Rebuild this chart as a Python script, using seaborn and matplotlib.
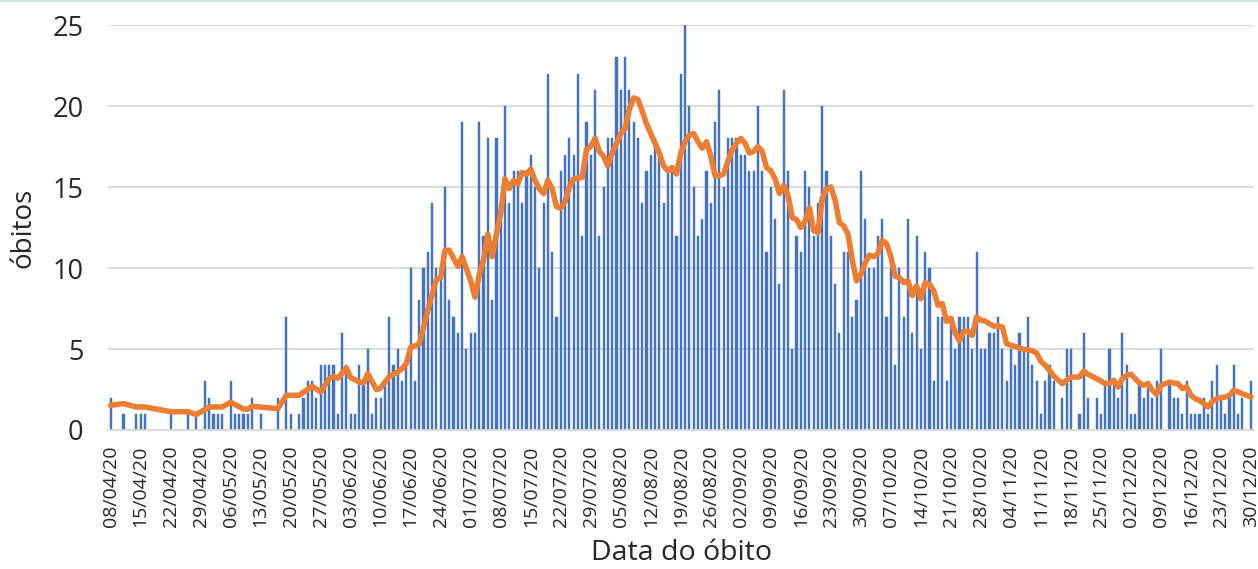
import pandas as pd
import matplotlib.pyplot as plt
import seaborn as sns

# daily deaths from 08/04/20 (one value per day, 0 = no bar)
deaths = [
    2, 0, 0, 1, 0, 0, 1, 1, 1, 0, 0, 0, 0, 0, 1, 0, 0, 0, 1, 0,
    1, 0, 3, 2, 1, 1, 1, 0, 3, 1, 1, 1, 1, 2, 0, 1, 0, 0, 0, 2,
    0, 7, 1, 0, 1, 2, 3, 3, 2, 4, 4, 4, 4, 1, 6, 4, 1, 1, 4, 3,
    5, 1, 2, 2, 3, 7, 4, 5, 3, 4, 10, 3, 8, 10, 11, 14, 10, 10, 15, 8,
    7, 6, 19, 5, 6, 6, 19, 12, 18, 8, 18, 14, 20, 14, 16, 16, 14, 16, 17, 15,
    10, 14, 22, 11, 7, 16, 17, 18, 17, 22, 12, 19, 17, 21, 12, 15, 18, 18, 23, 21,
    23, 21, 19, 18, 14, 16, 17, 18, 17, 14, 16, 16, 12, 22, 25, 20, 15, 12, 13, 16,
    14, 19, 21, 15, 18, 18, 18, 17, 17, 16, 16, 20, 16, 11, 15, 13, 9, 21, 16, 5,
    12, 11, 16, 15, 12, 14, 20, 16, 12, 9, 6, 11, 11, 7, 8, 16, 13, 10, 10, 12,
    13, 7, 10, 4, 10, 7, 13, 6, 12, 5, 11, 10, 3, 7, 7, 3, 7, 5, 7, 7,
    7, 5, 11, 5, 5, 6, 6, 7, 5, 3, 5, 4, 6, 5, 7, 4, 3, 1, 3, 4,
    3, 0, 2, 5, 5, 0, 1, 6, 2, 0, 2, 1, 3, 5, 3, 2, 6, 4, 1, 1,
    3, 2, 3, 2, 3, 5, 0, 3, 2, 2, 1, 3, 1, 1, 1, 2, 1, 3, 4, 2,
    1, 2, 4, 1, 2, 0, 3,
]

# moving average line (day number since 08/04/20, value)
line_days = [
    0, 3, 6, 8, 14, 18, 20, 23, 26, 28, 31, 32, 33, 39, 41, 44, 47, 49, 51, 52,
    53, 55, 56, 58, 59, 60, 62, 63, 65, 67, 68, 69, 70, 72, 74, 76, 77, 78, 79, 81,
    82, 84, 85, 86, 87, 88, 89, 90, 91, 92, 93, 94, 95, 96, 97, 98, 99, 100, 101, 102,
    103, 104, 105, 106, 107, 108, 110, 111, 112, 113, 114, 115, 116, 117, 118, 119, 120, 121, 122, 123,
    124, 125, 126, 127, 128, 129, 130, 131, 132, 133, 134, 135, 136, 137, 138, 139, 140, 141, 142, 143,
    144, 145, 146, 147, 148, 149, 150, 151, 152, 153, 154, 155, 156, 157, 158, 159, 160, 161, 162, 163,
    164, 165, 166, 167, 168, 169, 170, 171, 172, 173, 174, 175, 176, 177, 178, 179, 180, 181, 182, 183,
    184, 185, 186, 187, 188, 189, 190, 191, 192, 193, 194, 195, 196, 197, 198, 199, 200, 201, 202, 203,
    204, 205, 206, 207, 208, 209, 210, 211, 212, 213, 214, 215, 216, 217, 218, 219, 220, 222, 223, 224,
    226, 227, 228, 230, 231, 232, 233, 234, 235, 236, 237, 238, 239, 240, 241, 242, 243, 244, 245, 247,
    248, 249, 250, 251, 252, 253, 254, 255, 256, 257, 258, 259, 260, 261, 262, 263, 264, 266,
]
line_vals = [
    1.52, 1.63, 1.42, 1.42, 1.13, 1.13, 0.96, 1.42, 1.42, 1.71, 1.3, 1.28, 1.46, 1.32, 2.14, 2.14, 2.7, 2.35, 3.17, 3.3,
    3.2, 3.83, 3.23, 2.96, 2.9, 3.48, 2.49, 2.6, 3.3, 3.58, 3.79, 4.1, 5.1, 5.3, 7.4, 9.3, 9.4, 11.1, 11.1, 10.1,
    10.7, 9.2, 8.2, 9.6, 10.5, 12.1, 10.7, 12.1, 13.4, 15.5, 14.9, 15.4, 15.2, 15.9, 15.8, 16.1, 15.4, 14.9, 14.6, 15.4,
    14.9, 13.8, 13.7, 14.1, 15.0, 15.5, 15.6, 17.3, 17.5, 18.0, 17.2, 16.9, 16.3, 17.1, 17.7, 18.3, 18.6, 19.8, 20.5, 20.4,
    19.7, 18.9, 18.3, 17.7, 17.1, 16.3, 16.0, 16.2, 15.8, 17.1, 17.8, 18.2, 18.3, 17.8, 17.4, 17.8, 16.9, 15.7, 15.7, 15.8,
    16.6, 17.3, 17.7, 18.0, 17.7, 17.1, 17.2, 17.5, 17.2, 16.2, 16.0, 15.5, 14.6, 15.1, 14.5, 13.1, 13.0, 12.5, 12.9, 13.7,
    12.3, 12.2, 14.3, 14.9, 15.0, 14.2, 12.8, 12.6, 12.1, 10.5, 9.2, 9.6, 10.3, 10.8, 10.7, 10.9, 11.7, 11.5, 10.7, 9.5,
    9.4, 9.1, 9.2, 8.3, 8.9, 8.1, 9.1, 9.0, 8.6, 7.7, 7.8, 6.7, 6.9, 6.0, 5.5, 6.1, 6.1, 5.84, 6.98, 6.77,
    6.73, 6.56, 6.42, 6.4, 6.36, 5.33, 5.23, 5.16, 5.06, 4.98, 4.96, 4.88, 4.75, 4.24, 4.0, 3.68, 3.33, 2.86, 3.07, 3.27,
    3.27, 3.64, 3.44, 3.17, 3.02, 2.86, 2.88, 3.07, 2.65, 3.17, 3.37, 3.44, 3.17, 2.9, 2.76, 2.86, 2.45, 2.2, 2.76, 2.96,
    2.9, 2.86, 2.55, 2.65, 2.14, 1.93, 1.83, 1.63, 1.42, 1.77, 1.93, 2.0, 2.04, 2.14, 2.45, 2.35, 2.24, 2.04,
]

start = pd.Timestamp("2020-04-08")
days = list(range(len(deaths)))
tick_days = days[::7]
tick_labels = [(start + pd.Timedelta(days=d)).strftime("%d/%m/%y") for d in tick_days]

sns.set_style("white")
plt.rcParams["font.family"] = ["Open Sans", "DejaVu Sans"]

fig = plt.figure(figsize=(12.58, 5.69), dpi=100)
ax = fig.add_axes([0.0862, 0.2443, 0.9106, 0.7117])

df = pd.DataFrame({"day": days, "deaths": deaths})
sns.barplot(data=df, x="day", y="deaths", native_scale=True, width=0.5,
            color="#4472C4", saturation=1, errorbar=None, ax=ax, zorder=2,
            edgecolor="#4472C4", linewidth=0.3)
sns.lineplot(x=line_days, y=line_vals, color="#ED7D31", linewidth=4.0,
             solid_joinstyle="round", solid_capstyle="round", ax=ax, zorder=3)

ax.set_xlim(-0.5, len(deaths) - 0.3)
ax.set_ylim(0, 25)
ax.set_yticks([0, 5, 10, 15, 20, 25])
ax.yaxis.grid(True, color="#d9d9d9", linewidth=1.3, zorder=0)
ax.set_axisbelow(True)

ax.set_xticks(tick_days)
ax.set_xticklabels(tick_labels, rotation=90)
ax.tick_params(axis="x", length=5, width=1.2, color="#bfbfbf", pad=6, labelsize=14)
ax.tick_params(axis="y", length=0, pad=18, labelsize=19.5)

for s in ["top", "right", "left"]:
    ax.spines[s].set_visible(False)
ax.spines["bottom"].set_color("#d9d9d9")
ax.spines["bottom"].set_linewidth(1.3)

ax.set_xlabel("Data do óbito", fontsize=20.5, labelpad=9)
ax.set_ylabel("óbitos", fontsize=20, labelpad=11)

fig.add_artist(plt.Line2D([0, 1], [0.999, 0.999], color="#cfe9df", linewidth=1.5))

fig.savefig("out.png", dpi=100)
